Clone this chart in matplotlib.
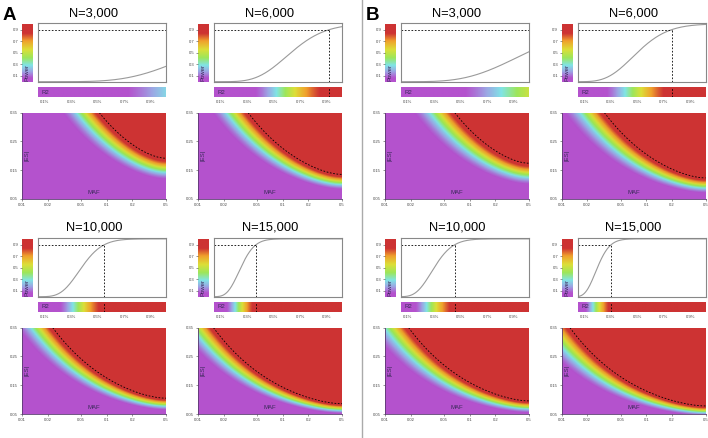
import math
import numpy as np
import matplotlib
matplotlib.use("Agg")
import matplotlib.pyplot as plt
from matplotlib.colors import LinearSegmentedColormap

plt.rcParams['font.family'] = ['Liberation Sans', 'DejaVu Sans']

W, H = 708, 438

sample_sizes = [3000, 6000, 10000, 15000]
titles = ["N=3,000", "N=6,000", "N=10,000", "N=15,000"]
# R2 (%) where each power curve meets the dashed line
r2_cross = {
    "A": [None, 0.916, 0.55, 0.37],
    "B": [None, 0.766, 0.46, 0.30],
}
power_line = 0.9

r2_range = [0.05, 1.016]          # in %
r2_ticks = [0.1, 0.3, 0.5, 0.7, 0.9]
r2_labels = ["0.1%", "0.3%", "0.5%", "0.7%", "0.9%"]
power_ticks = [0.1, 0.3, 0.5, 0.7, 0.9]
maf_range = [0.01, 0.5]
maf_ticks = [0.01, 0.02, 0.05, 0.1, 0.2, 0.5]
maf_labels = ["0.01", "0.02", "0.05", "0.1", "0.2", "0.5"]
es_range = [0.05, 0.35]
es_ticks = [0.05, 0.15, 0.25, 0.35]
es_labels = ["0.05", "0.15", "0.25", "0.35"]

cmap_stops = [0.0, 0.07, 0.18, 0.29, 0.42, 0.56, 0.71, 0.84, 1.0]
cmap_colors = ["#B452CD", "#B452CD", "#9CA6E4", "#80E4E6", "#9DE65A",
               "#DCDF38", "#F0A02C", "#CD3333", "#CD3333"]
cmap = LinearSegmentedColormap.from_list("pw", list(zip(cmap_stops, cmap_colors)))

erf = np.vectorize(math.erf)


def norm_cdf(x):
    return 0.5 * (1 + erf(np.asarray(x) / math.sqrt(2)))


def z_crit(half):
    vals = [math.sqrt(n * r / 100) for n, r in zip(sample_sizes, r2_cross[half]) if r]
    return np.mean(vals) - 1.2816


def power(n, r2, z):
    # r2 as a fraction
    return norm_cdf(np.sqrt(n * r2) - z)


def px_axes(fig, x0, y0, x1, y1):
    return fig.add_axes([x0 / W, 1 - y1 / H, (x1 - x0) / W, (y1 - y0) / H])


fig = plt.figure(figsize=(W / 100, H / 100), dpi=100)

tick_col = "#444444"
lab_col = "#3a2a5a"
dash = dict(color="black", lw=0.6, linestyle=(0, (2, 2)))

group_x = {"A": [22, 198], "B": [385, 561.5]}
row_dy = [0, 215]

for half in ["A", "B"]:
    z = z_crit(half)
    for row in range(2):
        dy = row_dy[row]
        for col in range(2):
            x0 = group_x[half][col]
            k = row * 2 + col
            n = sample_sizes[k]

            fig.text((x0 + 72) / W, 1 - (13 + dy) / H, titles[k],
                     ha="center", va="center", fontsize=9.3)

            # vertical power colour bar
            pcb = px_axes(fig, x0, 23.3 + dy, x0 + 10.5, 82.3 + dy)
            grad = np.linspace(0, 1, 256)[:, None]
            pcb.imshow(grad, cmap=cmap, origin="lower", aspect="auto",
                       extent=[0, 1, 0, 1], vmin=0, vmax=1)
            pcb.set_ylim(-0.01, 1.01)
            pcb.set_xticks([])
            pcb.set_yticks(power_ticks)
            pcb.set_yticklabels([str(t) for t in power_ticks])
            pcb.tick_params(axis="y", labelsize=3, length=1.5, width=0.4,
                            pad=1, colors=tick_col)
            for s in pcb.spines.values():
                s.set_visible(False)
            pcb.text(0.5, 0.17, "Power", rotation=90, ha="center", va="center",
                     fontsize=4.3, color=lab_col, transform=pcb.transAxes)

            # power curve
            ax = px_axes(fig, x0 + 16, 23.3 + dy, x0 + 144, 82.3 + dy)
            r2 = np.linspace(r2_range[0], r2_range[1], 300)
            pw = power(n, r2 / 100, z)
            ax.plot(r2, pw, color="#9a9a9a", lw=0.8)
            ax.set_xlim(r2_range)
            ax.set_ylim(-0.01, 1.01)
            ax.set_xticks([])
            ax.set_yticks([])
            for s in ax.spines.values():
                s.set_color("#888888")
                s.set_linewidth(0.8)
            x_cross = (z + 1.2816) ** 2 / n * 100
            if x_cross < r2_range[1]:
                ax.plot([r2_range[0], x_cross], [power_line, power_line], **dash)
                ax.plot([x_cross, x_cross], [-0.01, power_line], **dash)
            else:
                ax.plot(r2_range, [power_line, power_line], **dash)

            # horizontal R2 colour bar
            rcb = px_axes(fig, x0 + 16, 87.3 + dy, x0 + 144, 96.7 + dy)
            rcb.imshow(pw[None, :], cmap=cmap, aspect="auto", vmin=0, vmax=1,
                       extent=[r2_range[0], r2_range[1], 0, 1])
            rcb.set_xlim(r2_range)
            rcb.set_xticks(r2_ticks)
            rcb.set_xticklabels(r2_labels)
            rcb.set_yticks([])
            rcb.tick_params(axis="x", labelsize=3, length=0, pad=2.5,
                            colors=tick_col)
            for s in rcb.spines.values():
                s.set_visible(False)
            rcb.text(0.03, 0.5, "R2", ha="left", va="center", fontsize=4.3,
                     color=lab_col, transform=rcb.transAxes)
            if x_cross < r2_range[1]:
                rcb.plot([x_cross, x_cross], [0, 1], **dash)

            # heat map over MAF and effect size
            hm = px_axes(fig, x0, 112.7 + dy, x0 + 144, 199 + dy)
            maf = np.logspace(np.log10(maf_range[0]), np.log10(maf_range[1]), 300)
            es = np.linspace(es_range[0], es_range[1], 200)
            M, E = np.meshgrid(maf, es)
            P = power(n, 2 * M * (1 - M) * E ** 2, z)
            hm.pcolormesh(M, E, P, cmap=cmap, vmin=0, vmax=1, shading="gouraud",
                          rasterized=True)
            hm.contour(M, E, P, levels=[power_line], colors="black",
                       linewidths=0.6, linestyles=[(0, (2, 2))])
            hm.set_xscale("log")
            hm.set_xlim(maf_range)
            hm.set_ylim(es_range)
            hm.set_xticks(maf_ticks)
            hm.set_xticklabels(maf_labels)
            hm.minorticks_off()
            hm.set_yticks(es_ticks)
            hm.set_yticklabels(es_labels)
            hm.tick_params(labelsize=3, length=1.5, width=0.4, pad=1.5,
                           colors=tick_col)
            hm.spines["top"].set_visible(False)
            hm.spines["right"].set_visible(False)
            for s in ["left", "bottom"]:
                hm.spines[s].set_color("#5a3a70")
                hm.spines[s].set_linewidth(0.6)
            hm.text(0.5, 0.07, "MAF", ha="center", va="center", fontsize=4.3,
                    color=lab_col, transform=hm.transAxes)
            hm.text(0.035, 0.51, "|ES|", rotation=90, ha="center", va="center",
                    fontsize=4.3, color=lab_col, transform=hm.transAxes)

fig.text(3 / W, 1 - 15 / H, "A", fontsize=13.5, fontweight="bold", va="center")
fig.text(366 / W, 1 - 15 / H, "B", fontsize=13.5, fontweight="bold", va="center")
fig.add_artist(plt.Line2D([361.5 / W, 361.5 / W], [0, 1], color="#aaaaaa", lw=1))

fig.savefig("out.png", dpi=100)
